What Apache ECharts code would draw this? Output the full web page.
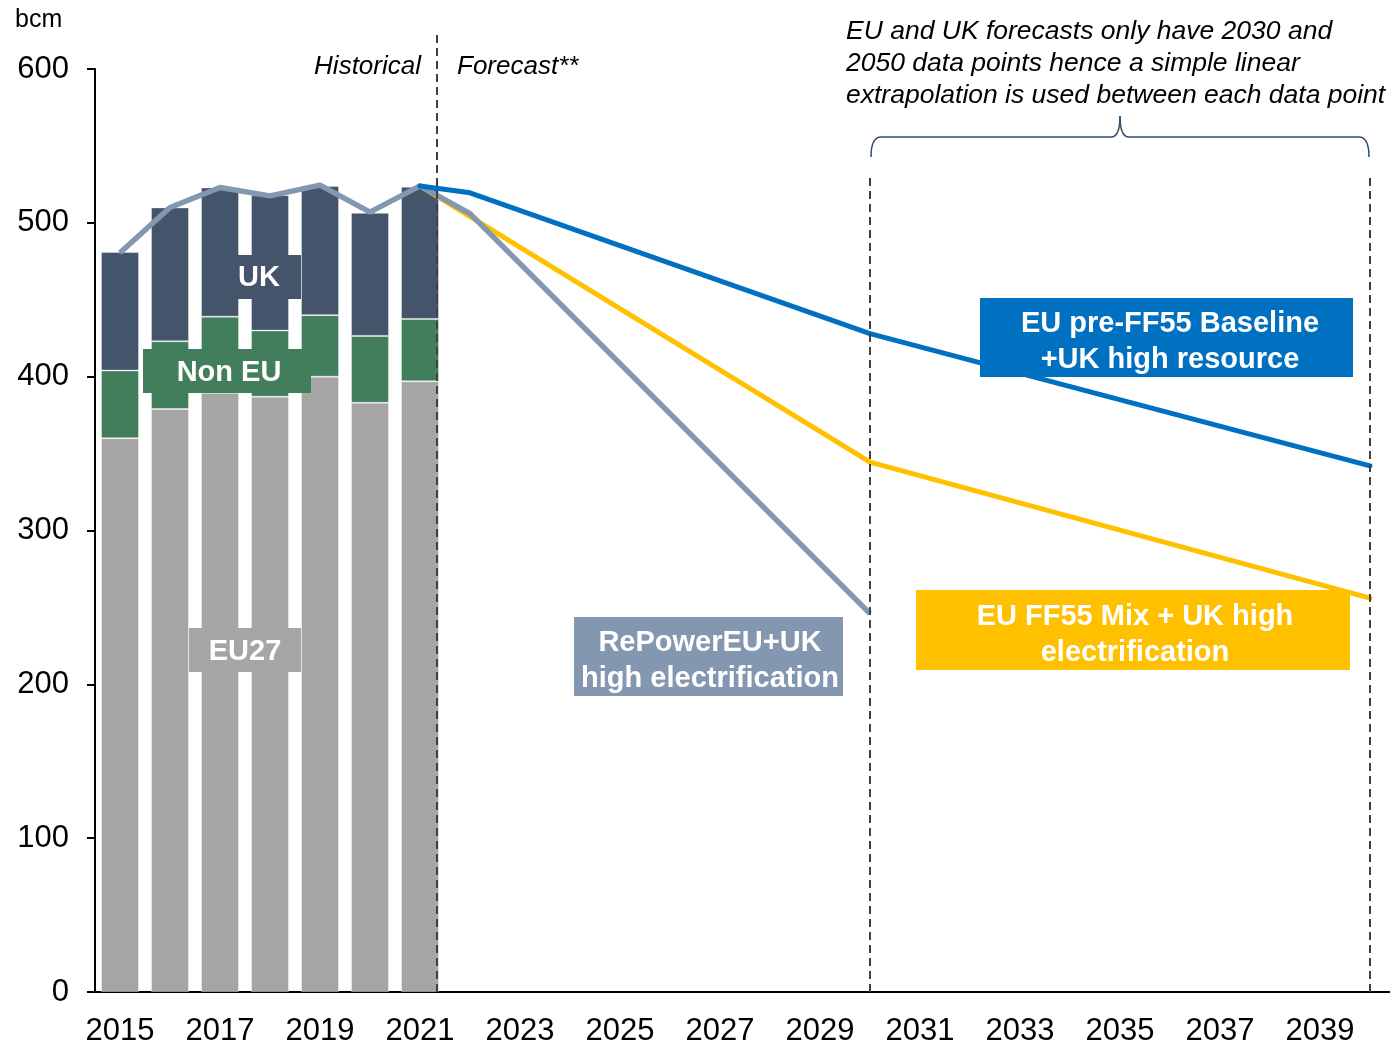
<!DOCTYPE html>
<html>
<head>
<meta charset="utf-8">
<title>Gas demand outlook</title>
<script src="https://cdn.jsdelivr.net/npm/echarts@6/dist/echarts.min.js"></script>
<style>
  html, body { margin: 0; padding: 0; background: #fff; overflow: hidden; }
  #chart { width: 1400px; height: 1043px; }
</style>
</head>
<body>
<div id="chart"></div>
<script>
// 年份（类目轴）
const years = [];
for (let y = 2015; y <= 2040; y++) years.push(String(y));

// 历史需求分解 2015-2021（bcm）
const eu27 = [360, 379, 389.5, 387, 400, 383, 397];
const nonEu = [44, 44, 49.5, 43, 40, 43.5, 40.5];
const uk = [77, 87, 84, 88, 84, 80, 86];

// 情景线：null 处由 connectNulls 直线连接
const repowerLine = [480.5, 510, 523, 517.5, 524.5, 507, 524, 506, null, null, null, null, null, null, null, 246];
const baselineLine = [null, null, null, null, null, null, 524, 519.5, null, null, null, null, null, null, null, 428,
  null, null, null, null, null, null, null, null, null, 342];
const ff55Line = [null, null, null, null, null, null, 524, null, null, null, null, null, null, null, null, 344.5,
  null, null, null, null, null, null, null, null, null, 256];

// 虚线位置（隐藏数值轴上的年份）
const dividers = [2021.34, 2030, 2040];

const FONT = 'Liberation Sans, Arial, sans-serif';
const COLORS = {
  eu27: '#A5A5A5',
  nonEu: '#427E5C',
  uk: '#44546A',
  repower: '#8497B0',
  baseline: '#0070C0',
  ff55: '#FFC000'
};

const chart = echarts.init(document.getElementById('chart'));

const barStyle = (color) => ({ color: color, borderColor: 'rgba(255,255,255,0.35)', borderWidth: 1 });

// 大括号片段
const braceStyle = { stroke: '#2F4E6E', lineWidth: 1.5, fill: null };
const brace = [
  { type: 'bezierCurve', shape: { x1: 871, y1: 157, cpx1: 871, cpy1: 137, x2: 881, y2: 137 } },
  { type: 'line', shape: { x1: 881, y1: 137, x2: 1111, y2: 137 } },
  { type: 'bezierCurve', shape: { x1: 1111, y1: 137, cpx1: 1120, cpy1: 137, x2: 1120, y2: 116 } },
  { type: 'bezierCurve', shape: { x1: 1120, y1: 116, cpx1: 1120, cpy1: 137, x2: 1129, y2: 137 } },
  { type: 'line', shape: { x1: 1129, y1: 137, x2: 1359, y2: 137 } },
  { type: 'bezierCurve', shape: { x1: 1359, y1: 137, cpx1: 1369, cpy1: 137, x2: 1369, y2: 157 } }
].map(el => Object.assign(el, { style: braceStyle, z: 100 }));

const box = (x, y, w, h, color) => ({ type: 'rect', z: 100, shape: { x: x, y: y, width: w, height: h }, style: { fill: color } });
const boxText = (x, y, text, size) => ({
  type: 'text', x: x, y: y, z: 101,
  style: { text: text, font: 'bold ' + size + 'px ' + FONT, fill: '#fff', align: 'center', verticalAlign: 'middle', lineHeight: 36 }
});

const option = {
  animation: false,
  grid: { left: 95, top: 69, width: 1300, height: 923, outerBoundsMode: 'none', containLabel: false },
  xAxis: [
    {
      type: 'category',
      data: years,
      boundaryGap: true,
      axisLine: { lineStyle: { color: '#000', width: 2 } },
      axisTick: { show: false },
      axisLabel: { interval: 1, color: '#000', fontSize: 31, fontFamily: FONT, margin: 24 }
    },
    {
      type: 'value',
      min: 2014.5,
      max: 2040.5,
      show: false
    }
  ],
  yAxis: {
    type: 'value',
    min: 0,
    max: 600,
    interval: 100,
    axisLine: { show: true, lineStyle: { color: '#000', width: 2 } },
    axisTick: { show: true, inside: false, length: 8, lineStyle: { color: '#000', width: 2 } },
    splitLine: { show: false },
    axisLabel: { color: '#000', fontSize: 31, fontFamily: FONT, margin: 26 }
  },
  series: [
    { name: 'EU27', type: 'bar', stack: 'hist', barWidth: 38, data: eu27, itemStyle: barStyle(COLORS.eu27) },
    { name: 'Non EU', type: 'bar', stack: 'hist', barWidth: 38, data: nonEu, itemStyle: barStyle(COLORS.nonEu) },
    { name: 'UK', type: 'bar', stack: 'hist', barWidth: 38, data: uk, itemStyle: barStyle(COLORS.uk) },
    {
      name: 'EU FF55 Mix + UK high electrification', type: 'line', data: ff55Line, connectNulls: true,
      symbol: 'none', lineStyle: { color: COLORS.ff55, width: 5, cap: 'round' }
    },
    {
      name: 'RePowerEU+UK high electrification', type: 'line', data: repowerLine, connectNulls: true,
      symbol: 'none', lineStyle: { color: COLORS.repower, width: 5.5 }
    },
    {
      name: 'EU pre-FF55 Baseline +UK high resource', type: 'line', data: baselineLine, connectNulls: true,
      symbol: 'none', lineStyle: { color: COLORS.baseline, width: 5, cap: 'round' }
    },
    {
      name: 'dividers', type: 'line', xAxisIndex: 1, data: [], silent: true,
      markLine: {
        symbol: 'none',
        silent: true,
        label: { show: false },
        lineStyle: { color: '#404040', type: [8, 5], width: 2 },
        data: [
          [{ coord: [dividers[0], 0] }, { coord: [dividers[0], 600], y: 30 }],
          [{ coord: [dividers[1], 0] }, { coord: [dividers[1], 600], y: 173 }],
          [{ coord: [dividers[2], 0] }, { coord: [dividers[2], 600], y: 173 }]
        ]
      }
    }
  ],
  graphic: [
    { type: 'text', x: 15, y: 20, z: 100, style: { text: 'bcm', font: '25px ' + FONT, fill: '#000', verticalAlign: 'middle' } },
    { type: 'text', x: 421, y: 67, z: 100, style: { text: 'Historical', font: 'italic 26px ' + FONT, fill: '#000', align: 'right', verticalAlign: 'middle' } },
    { type: 'text', x: 457, y: 67, z: 100, style: { text: 'Forecast**', font: 'italic 26px ' + FONT, fill: '#000', align: 'left', verticalAlign: 'middle' } },
    {
      type: 'text', x: 846, y: 16, z: 100,
      style: {
        text: 'EU and UK forecasts only have 2030 and\n2050 data points hence a simple linear\nextrapolation is used between each data point',
        font: 'italic 26.5px ' + FONT, fill: '#000', lineHeight: 32, align: 'left', verticalAlign: 'top'
      }
    }
  ].concat(brace).concat([
    // 柱内标签
    box(217, 255, 84, 44, COLORS.uk),
    boxText(259, 278, 'UK', 29),
    box(143, 349, 168, 44, COLORS.nonEu),
    boxText(229, 373, 'Non EU', 29),
    box(189, 628, 112, 44, COLORS.eu27),
    boxText(245, 652, 'EU27', 29),
    // 情景标签
    box(980, 298, 373, 79, COLORS.baseline),
    boxText(1170, 342, 'EU pre-FF55 Baseline\n+UK high resource', 29),
    box(916, 590, 434, 80, COLORS.ff55),
    boxText(1135, 635, 'EU FF55 Mix + UK high\nelectrification', 29),
    box(574, 617, 269, 79, COLORS.repower),
    boxText(710, 661, 'RePowerEU+UK\nhigh electrification', 29)
  ])
};

chart.setOption(option);
</script>
</body>
</html>
